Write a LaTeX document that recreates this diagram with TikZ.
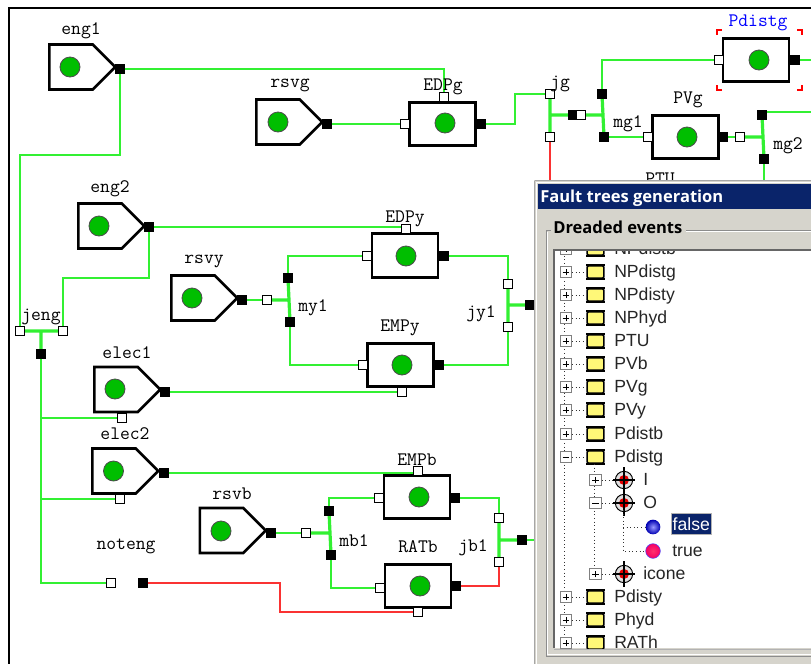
\documentclass[tikz,border=0pt]{standalone}
\usepackage{fontspec}
\setmainfont{Liberation Sans}
\newfontfamily\boldf{Open Sans}[BoldFont={Open Sans Bold}]
\usetikzlibrary{shapes.symbols,backgrounds}
\definecolor{wgreen}{RGB}{50,240,50}
\definecolor{wred}{RGB}{250,50,50}
\definecolor{lampgreen}{RGB}{0,190,0}
\definecolor{winbg}{RGB}{214,212,204}
\definecolor{navy}{RGB}{10,36,106}
\definecolor{chip}{RGB}{255,248,120}
\tikzset{
  x=0.75pt,y=-0.75pt,
  wire/.style={draw=wgreen,line width=1.1pt,line join=miter},
  bar/.style={draw=wgreen,line width=2.4pt},
  redwire/.style={draw=wred,line width=1.2pt},
  source/.style={signal,signal to=east,signal from=nowhere,signal pointer angle=90,draw=black,fill=white,line width=1.9pt,minimum height=33.75pt,minimum width=49.5pt,inner sep=0pt,anchor=west},
  block/.style={rectangle,draw=black,fill=white,line width=2.2pt,minimum width=49.5pt,minimum height=32.5pt,inner sep=0pt},
  lamp/.style={circle,draw=black!70,fill=lampgreen,line width=0.6pt,minimum size=15pt,inner sep=0pt},
  inport/.style={rectangle,draw=black,fill=white,line width=0.8pt,minimum size=6.8pt,inner sep=0pt},
  outport/.style={rectangle,fill=black,minimum size=7.5pt,inner sep=0pt},
  lab/.style={font=\ttfamily\fontsize{14.3}{16}\selectfont,inner sep=0pt,text=black,yshift=-1.3pt},
  treetxt/.style={font=\fontsize{13.2}{15}\selectfont,inner sep=0pt,anchor=base west,text=black!85},
  plusbox/.style={rectangle,draw=black!50,fill=white,line width=0.7pt,minimum size=8.5pt,inner sep=0pt,path picture={\draw[black,line width=.6pt] ([xshift=-2.6pt]path picture bounding box.center)--([xshift=2.6pt]path picture bounding box.center);\draw[black,line width=.6pt] ([yshift=-2.6pt]path picture bounding box.center)--([yshift=2.6pt]path picture bounding box.center);}},
  minusbox/.style={rectangle,draw=black!50,fill=white,line width=0.7pt,minimum size=8.5pt,inner sep=0pt,path picture={\draw[black,line width=.6pt] ([xshift=-2.6pt]path picture bounding box.center)--([xshift=2.6pt]path picture bounding box.center);}},
  chipicon/.style={rectangle,rounded corners=0.8pt,draw=black,fill=chip,line width=1.1pt,minimum width=12.5pt,minimum height=9pt,inner sep=0pt},
  chipteeth/.style={draw=black,line width=1.2pt,dash pattern=on 0.8pt off 0.7pt},
  targeticon/.style={circle,draw=black,fill=black!12,line width=.7pt,minimum size=13pt,inner sep=0pt},
  targetcore/.style={circle,fill=red!90!black,minimum size=7.5pt,inner sep=0pt},
  treedot/.style={draw=black!80,line width=.7pt,dotted},
  redmark/.style={draw=red,line width=1.5pt},
  etch/.style={draw=black!45,line width=.75pt},
  etchw/.style={draw=white,line width=.75pt},
}
\begin{document}
\begin{tikzpicture}
\useasboundingbox (0,0) rectangle (811,664);
\coordinate (frameTL) at (9,8);
\coordinate (frameTR) at (811,8);
\coordinate (frameBL) at (9,664);
\draw[black,line width=1.5pt] (frameBL) -- (frameTL) -- (frameTR);

% sources
\node[source] (engl) at (48,67) {};
\node[source] (rsvg) at (255,122) {};
\node[source] (engtwo) at (77,226) {};
\node[source] (rsvy) at (170,298) {};
\node[source] (elecone) at (93,389.5) {};
\node[source] (electwo) at (91,471) {};
\node[source] (rsvb) at (198.5,530.5) {};
\foreach \n/\x/\y in {engl/70/67,rsvg/278/122,engtwo/99/226,rsvy/192/298,elecone/115/389,electwo/113.5/471,rsvb/221/531}
  \node[lamp] (lamp\n) at (\x,\y) {};
% blocks
\foreach \n/\x/\y/\lx/\ly in {EDPg/442.5/124/445/123,Pdistg/756/60/759/60,PVg/685.5/137/687/137,EDPy/405/255.5/406/256,EMPy/400.5/365/402/365,EMPb/417/497/419/497,RATb/418/586/420/586}{
  \node[block] (\n) at (\x,\y) {};
  \node[lamp] (lamp\n) at (\lx,\ly) {};
}
% output ports
\foreach \n/\x/\y in {oengl/120/69,orsvg/327/124,oengtwo/149/227,orsvy/242/300,oelecone/165/392,oelectwo/163.5/473,orsvb/271/533,
 oEDPg/481/124,oPdistg/795/60,oPVg/723/137,oEDPy/444/256,oEMPy/439/365,oEMPb/455/498,oRATb/456/586,
 ojg/573/115,mgltop/602/94,mglbot/604/137,mgtop/762/115,mgbot/764/159,
 mylt/288/278,mylb/290/322,ojyl/530/305,
 mblt/329/511,mblb/331/555,ojbl/522/540,ojeng/41/354,onoteng/143/583}
  \node[outport] (\n) at (\x,\y) {};
% input ports
\foreach \n/\x/\y in {iEDPgl/405/124,iEDPgt/444/97,iPdistg/719/60,iPVg/648/137,iEDPyl/367/256,iEDPyt/406/229,iEMPyl/363/365,iEMPyb/402/392,
 iEMPbl/379/498,iEMPbt/418/471,iRATbl/380/588,iRATbb/418/612,
 jgt/550/94,jgb/550/137,imgl/581/115,imgtwo/740/137,
 imyl/267/300,jylt/508/284,jylb/508/327,imbl/306/533,jblt/499/518,jblb/499/562,
 jengl/20/331,jengr/63/331,ielecone/122/418,ielectwo/120/499,inoteng/111/583}
  \node[inport] (\n) at (\x,\y) {};
% junction points
\coordinate (jgmid) at (550,115);
\coordinate (mglmid) at (602,115);
\coordinate (mgmid) at (761,137);
\coordinate (mymid) at (288,300);
\coordinate (jymid) at (508,305);
\coordinate (mbmid) at (329.5,533);
\coordinate (jbmid) at (499,540);
\coordinate (jengmid) at (41,331);
\coordinate (engbend) at (20,155);
\coordinate (engbendb) at (63,278);
\coordinate (outPd) at (811,60);
\coordinate (outmg) at (811,112);
\coordinate (jgdown) at (550,182);
\coordinate (mgdown) at (764,182);
\coordinate (jbout) at (536,540);
\coordinate (redbend) at (280,583);
\coordinate (redbendb) at (280,612);

\begin{pgfonlayer}{background}
\fill[white] (0,0) rectangle (811,664);
\path[wire]
 (oengl.center) -| (iEDPgt.center)
 (oengl.center) |- (engbend) -- (jengl.center)
 (orsvg.center) -- (iEDPgl.center)
 (oEDPg.center) -- ++(34,0) |- (jgt.center)
 (oengtwo.center) -| (iEDPyt.center)
 (oengtwo.center) |- (engbendb) -- (jengr.center)
 (orsvy.center) -- (imyl.center)
 (mylt.center) |- (iEDPyl.center)
 (mylb.center) |- (iEMPyl.center)
 (oEDPy.center) -| (jylt.center)
 (oEMPy.center) -| (jylb.center)
 (oelecone.center) -| (iEMPyb.center)
 (oelectwo.center) -| (iEMPbt.center)
 (orsvb.center) -- (imbl.center)
 (mblt.center) |- (iEMPbl.center)
 (mblb.center) |- (iRATbl.center)
 (oEMPb.center) -| (jblt.center)
 (ojeng.center) |- (inoteng.center)
 (ojeng.center) |- (ielecone.center)
 (ojeng.center) |- (ielectwo.center)
 (mgltop.center) |- (iPdistg.center)
 (mglbot.center) -- (iPVg.center)
 (oPVg.center) -- (imgtwo.center)
 (oPdistg.center) -- (outPd)
 (mgtop.center) |- (outmg)
 (mgbot.center) -- (mgdown)
 (ojbl.center) -- (jbout);
\path[bar]
 (jgt.center) -- (jgb.center)
 (jgmid) -- (ojg.center)
 (imgl.center) -- (mglmid)
 (mgltop.center) -- (mglbot.center)
 (imgtwo.center) -- (mgmid)
 (mgtop.center) -- (mgbot.center)
 (imyl.center) -- (mymid)
 (mylt.center) -- (mylb.center)
 (jylt.center) -- (jylb.center)
 (jymid) -- (ojyl.center)
 (imbl.center) -- (mbmid)
 (mblt.center) -- (mblb.center)
 (jblt.center) -- (jblb.center)
 (jbmid) -- (ojbl.center)
 (jengl.center) -- (jengr.center)
 (jengmid) -- (ojeng.center);
\path[redwire]
 (jgb.center) -- (jgdown)
 (oRATb.center) -| (jblb.center)
 (onoteng.center) -- (redbend) -- (redbendb) -- (iRATbb.center);
\end{pgfonlayer}

% labels
\foreach \n/\t/\x/\y in {tengl/eng1/81/29,trsvg/rsvg/290/84,tEDPg/EDPg/443/85,tjg/jg/560/82,tPVg/PVg/688/98,tmgl/mg1/628/122,tmg/mg2/788/144,tPTU/PTU/660/177,
 teng/eng2/110/187,trsvy/rsvy/204/260,tEDPy/EDPy/405/217,tmy/my1/313/306,tEMPy/EMPy/400/326,tjy/jy1/481/312,tjeng/jeng/41/315,
 telecone/elec1/127/351,telectwo/elec2/125/432,trsvb/rsvb/232/492,tnot/noteng/126/545,tEMPb/EMPb/417/458,tRATb/RATb/418/545,tmb/mb1/354/539,tjb/jb1/473/546}
  \node[lab] (\n) at (\x,\y) {\t};
\node[lab,text=blue] (tPdistg) at (758,21) {Pdistg};
% selection marks
\coordinate (selA) at (717,30); \coordinate (selB) at (802,30);
\coordinate (selC) at (717,90); \coordinate (selD) at (802,90);
\path[redmark] ([xshift=3.5pt]selA) -- (selA) -- ([yshift=-3.5pt]selA);
\path[redmark] ([xshift=-3.5pt]selB) -- (selB) -- ([yshift=-3.5pt]selB);
\path[redmark] ([xshift=3.5pt]selC) -- (selC) -- ([yshift=3.5pt]selC);
\path[redmark] ([xshift=-3.5pt]selD) -- (selD) -- ([yshift=3.5pt]selD);

% window
\fill[winbg] (534,180) rectangle (811,664);
\draw[black!35,line width=.75pt] (534.5,180.5) -- (811,180.5);
\draw[black!35,line width=.75pt] (534.5,180.5) -- (534.5,664);
\draw[white,line width=.75pt] (536,182) -- (811,182);
\draw[white,line width=.75pt] (536,182) -- (536,664);
\fill[navy] (538,184) rectangle (811,209);
\node[anchor=mid west,inner sep=0pt,text=white,font=\boldf\bfseries\fontsize{12.4}{15}\selectfont] (title) at (540,199) {Fault trees generation};
% group box
\path[etch] (546,230) -- (546,656) -- (811,656);
\path[etchw] (547.5,231.5) -- (547.5,654.5) -- (811,654.5);
\path[etch] (546,230) -- (551,230);
\path[etch] (686,230) -- (811,230);
\path[etchw] (686,231.5) -- (811,231.5);
\node[anchor=mid west,inner sep=0pt,text=black,font=\boldf\bfseries\fontsize{12.4}{15}\selectfont] (group) at (553,230) {Dreaded events};
% tree area
\fill[white] (554,250) rectangle (811,648);
\draw[black!60,line width=.9pt] (554,648) -- (554,250) -- (811,250);
\draw[black!30,line width=.75pt] (554,649) -- (811,649);
\begin{scope}
\clip (555,251) rectangle (811,648);
\coordinate (spinetop) at (564,245);
\coordinate (spinebot) at (564,655);
\path[treedot] (spinetop) -- (spinebot);
\foreach \n/\t/\y in {NPdistb/NPdistb/249,NPdistg/NPdistg/272,NPdisty/NPdisty/295,NPhyd/NPhyd/318,PTU/PTU/341,PVb/PVb/364,PVg/PVg/387,PVy/PVy/410,Pdistb/Pdistb/434,Pdistg/Pdistg/457,Pdisty/Pdisty/597,Phyd/Phyd/620,RATh/RATh/643}{
  \ifnum\y=457 \node[minusbox] (box\n) at (566,\y) {}; \else \node[plusbox] (box\n) at (566,\y) {}; \fi
  \node[chipicon] (chip\n) at (595.5,\y) {};
  \path[chipteeth] (chip\n.north west) -- (chip\n.north east);
  \path[chipteeth] (chip\n.south west) -- (chip\n.south east);
  \path[treedot] (box\n) -- (chip\n);
  \node[treetxt] (txt\n) at (614,\y+5.5) {\t};
}
% sub level
\coordinate (subtop) at (594,464);
\coordinate (subbot) at (594,574);
\path[treedot] (subtop) -- (subbot);
\foreach \n/\t/\y/\s in {I/I/480/plusbox,O/O/503/minusbox,icone/icone/574/plusbox}{
  \node[\s] (box\n) at (595.5,\y) {};
  \node[targeticon] (tg\n) at (624,\y) {};
  \node[targetcore] (core\n) at (624,\y) {};
  \path[treedot] (box\n) -- (tg\n);
  \draw[black,line width=.8pt] (tg\n.center) ++(-11,0) -- ++(22,0);
  \draw[black,line width=.8pt] (tg\n.center) ++(0,-13) -- ++(0,26);
  \node[treetxt] (txt\n) at (643,\y+5.5) {\t};
}
\node[circle,inner sep=0pt,minimum size=11pt,shading=radial,inner color=blue!40!white,outer color=blue!70!black] (ballF) at (653,527) {};
\node[circle,inner sep=0pt,minimum size=11pt,draw=blue!70,line width=.4pt,shading=radial,inner color={rgb,255:red,255;green,50;blue,110},outer color={rgb,255:red,245;green,0;blue,100}] (ballT) at (653,551) {};
\coordinate (otop) at (623,510);
\path[treedot] (otop) -- (otop |- ballT) -- (ballT);
\path[treedot] (otop |- ballF) -- (ballF);
\node[treetxt,anchor=mid west,fill=navy,text=white,draw=black!30,line width=.6pt,inner xsep=1pt,inner ysep=2.5pt,minimum height=15.5pt,text height=9.5pt,text depth=0pt] (txtF) at (671,527) {false};
\node[treetxt] (txtT) at (672,556.5) {true};
\end{scope}
\end{tikzpicture}
\end{document}
